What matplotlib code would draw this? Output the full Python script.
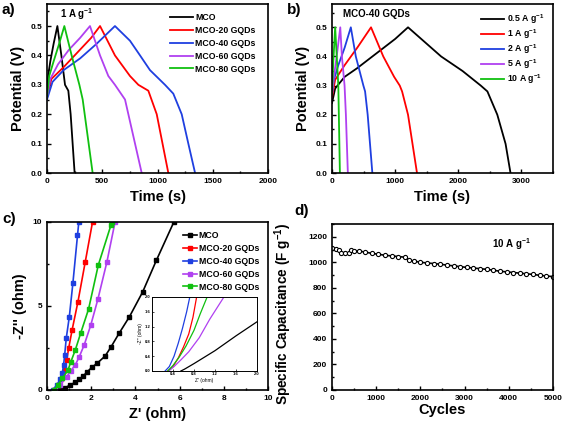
import numpy as np
import matplotlib
matplotlib.use('Agg')
import matplotlib.pyplot as plt
from matplotlib.ticker import MultipleLocator

plt.rcParams['font.family'] = ['Liberation Sans', 'DejaVu Sans']
plt.rcParams['font.weight'] = 'bold'
plt.rcParams['mathtext.fontset'] = 'custom'
plt.rcParams['mathtext.rm'] = 'Liberation Sans:bold'
plt.rcParams['mathtext.bf'] = 'Liberation Sans:bold'
plt.rcParams['mathtext.default'] = 'bf'

# ---- panel a: GCD of samples at 1 A/g
a_names = ['MCO', 'MCO-20 GQDs', 'MCO-40 GQDs', 'MCO-60 GQDs', 'MCO-80 GQDs']
a_cols = ['black', 'red', '#1f3fe0', '#b040f0', '#10c010']
a_t = [
    [0, 10, 30, 60, 94, 130, 163, 193, 214, 250],
    [0, 40, 150, 300, 400, 480, 615, 751, 827, 917, 993, 1098],
    [0, 50, 150, 300, 450, 615, 751, 842, 932, 1068, 1143, 1219, 1279, 1340],
    [0, 30, 100, 200, 300, 389, 480, 555, 615, 706, 857],
    [0, 20, 60, 110, 157, 223, 293, 323, 413],
]
a_v = [
    [0.27, 0.33, 0.38, 0.44, 0.50, 0.40, 0.30, 0.28, 0.20, 0.0],
    [0.26, 0.32, 0.36, 0.42, 0.46, 0.50, 0.40, 0.33, 0.30, 0.28, 0.20, 0.0],
    [0.25, 0.31, 0.35, 0.39, 0.44, 0.50, 0.45, 0.40, 0.35, 0.30, 0.27, 0.20, 0.10, 0.0],
    [0.26, 0.32, 0.37, 0.42, 0.46, 0.50, 0.40, 0.33, 0.30, 0.25, 0.0],
    [0.26, 0.33, 0.38, 0.44, 0.50, 0.40, 0.30, 0.25, 0.0],
]

# ---- panel b: MCO-40 GQDs at different current densities
b_names = ['0.5 A g$^{-1}$', '1 A g$^{-1}$', '2 A g$^{-1}$', '5 A g$^{-1}$', '10 A g$^{-1}$']
b_cols = ['black', 'red', '#1f3fe0', '#b040f0', '#10c010']
b_t = [
    [0, 50, 200, 400, 700, 1000, 1204, 1466, 1728, 2068, 2356, 2461, 2618, 2749, 2827],
    [0, 50, 200, 400, 618, 812, 984, 1073, 1110, 1204, 1346],
    [0, 30, 100, 200, 298, 377, 497, 524, 565, 639],
    [0, 30, 80, 131, 157, 199, 220, 251],
    [0, 20, 50, 75, 100, 125],
]
b_v = [
    [0.24, 0.29, 0.33, 0.36, 0.41, 0.46, 0.50, 0.45, 0.40, 0.35, 0.30, 0.28, 0.20, 0.10, 0.0],
    [0.26, 0.32, 0.37, 0.43, 0.50, 0.40, 0.33, 0.30, 0.28, 0.20, 0.0],
    [0.27, 0.32, 0.37, 0.43, 0.50, 0.40, 0.30, 0.28, 0.20, 0.0],
    [0.27, 0.33, 0.41, 0.50, 0.40, 0.30, 0.20, 0.0],
    [0.27, 0.38, 0.50, 0.40, 0.30, 0.0],
]

# ---- panel c: Nyquist plots
c_order = ['MCO', 'MCO-20 GQDs', 'MCO-40 GQDs', 'MCO-60 GQDs', 'MCO-80 GQDs']
c_x = [
    [0.6, 0.65, 0.83, 1.05, 1.28, 1.47, 1.65, 1.83, 2.03, 2.26, 2.63, 2.90, 3.26, 3.73, 4.33, 4.95, 5.74],
    [0.3, 0.5, 0.65, 0.80, 0.89, 0.98, 1.14, 1.40, 1.73, 2.06],
    [0.25, 0.45, 0.6, 0.69, 0.75, 0.80, 0.87, 1.01, 1.17, 1.38, 1.44],
    [0.35, 0.6, 0.9, 1.08, 1.28, 1.46, 1.68, 1.98, 2.30, 2.71, 3.08],
    [0.3, 0.5, 0.7, 0.95, 1.08, 1.28, 1.53, 1.88, 2.32, 2.89, 2.95],
]
c_y = [
    [0.0, 0.04, 0.14, 0.30, 0.46, 0.63, 0.85, 1.09, 1.35, 1.58, 2.02, 2.57, 3.37, 4.36, 5.84, 7.72, 10.0],
    [0.0, 0.3, 0.65, 1.19, 1.78, 2.48, 3.60, 5.25, 7.62, 10.0],
    [0.0, 0.3, 0.65, 0.99, 1.49, 2.08, 3.07, 4.36, 6.34, 9.20, 10.0],
    [0.0, 0.3, 0.8, 1.15, 1.49, 1.98, 2.67, 3.86, 5.39, 7.62, 10.0],
    [0.0, 0.3, 0.7, 1.19, 1.68, 2.38, 3.41, 4.81, 7.43, 9.80, 10.0],
]
c_cols = ['black', 'red', '#1f3fe0', '#b040f0', '#10c010']

# inset (high-frequency region)
ins_x = [
    [0.55, 0.62, 0.8, 1.2, 1.6, 2.0],
    [0.3, 0.4, 0.5, 0.6, 0.7, 0.78, 0.85],
    [0.25, 0.33, 0.42, 0.5, 0.58, 0.66, 0.72],
    [0.32, 0.42, 0.55, 0.7, 0.9, 1.1, 1.37],
    [0.3, 0.4, 0.52, 0.65, 0.8, 0.92, 1.05],
]
ins_y = [
    [0.0, 0.05, 0.2, 0.55, 0.95, 1.33],
    [0.0, 0.12, 0.35, 0.65, 1.0, 1.45, 2.0],
    [0.0, 0.12, 0.4, 0.75, 1.15, 1.6, 2.0],
    [0.0, 0.12, 0.3, 0.52, 0.9, 1.4, 2.0],
    [0.0, 0.15, 0.38, 0.68, 1.1, 1.55, 2.0],
]

# ---- panel d: cycling stability
d_cyc = [0, 100, 150, 200, 300, 380, 420, 500, 600, 750, 900, 1050, 1200, 1350, 1500,
         1650, 1750, 1850, 2000, 2150, 2300, 2450, 2600, 2750, 2900, 3050, 3200, 3350,
         3500, 3650, 3800, 3950, 4100, 4250, 4400, 4550, 4700, 4850, 5000]
d_cap = [1110, 1105, 1100, 1075, 1075, 1070, 1095, 1090, 1088, 1080, 1070, 1063, 1055, 1050, 1045,
         1040, 1015, 1010, 1000, 995, 990, 985, 978, 972, 966, 960, 955, 950,
         945, 938, 930, 925, 920, 915, 910, 905, 898, 893, 888]

fig = plt.figure(figsize=(5.67, 4.29), dpi=100)
W, H = 567.0, 429.0


def box(l, t, r, b):
    return [l / W, 1 - b / H, (r - l) / W, (b - t) / H]


def style(ax):
    for s in ax.spines.values():
        s.set_linewidth(1.2)
    ax.tick_params(direction='in', which='both', top=False, right=False, labelsize=6, width=1)
    ax.tick_params(which='major', length=3)
    ax.tick_params(which='minor', length=1.5)


lab = dict(fontsize=10.5, fontweight='bold')

ax1 = fig.add_axes(box(47, 4, 268, 173))
for t, v, c, n in zip(a_t, a_v, a_cols, a_names):
    ax1.plot(t, v, color=c, lw=1.3, label=n)
ax1.set_xlim(0, 2000)
ax1.set_ylim(0, 0.575)
ax1.xaxis.set_major_locator(MultipleLocator(500))
ax1.xaxis.set_minor_locator(MultipleLocator(250))
ax1.yaxis.set_major_locator(MultipleLocator(0.1))
ax1.yaxis.set_minor_locator(MultipleLocator(0.05))
ax1.set_xlabel('Time (s)', **lab)
ax1.set_ylabel('Potential (V)', **lab)
ax1.text(0.06, 0.94, '1 A g$^{-1}$', transform=ax1.transAxes, fontsize=7, va='center')
ax1.legend(loc='upper right', frameon=False, fontsize=6.3, handlelength=2.6,
           handletextpad=0.3, labelspacing=0.45, borderaxespad=0.6,
           bbox_to_anchor=(0.985, 1.0))
style(ax1)

ax2 = fig.add_axes(box(332, 4, 553, 173))
for t, v, c, n in zip(b_t, b_v, b_cols, b_names):
    ax2.plot(t, v, color=c, lw=1.3, label=n)
ax2.set_xlim(0, 3500)
ax2.set_ylim(0, 0.58)
ax2.xaxis.set_major_locator(MultipleLocator(1000))
ax2.xaxis.set_minor_locator(MultipleLocator(500))
ax2.yaxis.set_major_locator(MultipleLocator(0.1))
ax2.yaxis.set_minor_locator(MultipleLocator(0.05))
ax2.set_xlabel('Time (s)', **lab)
ax2.set_ylabel('Potential (V)', **lab)
ax2.text(0.05, 0.94, 'MCO-40 GQDs', transform=ax2.transAxes, fontsize=7, va='center')
ax2.legend(loc='upper right', frameon=False, fontsize=6.3, handlelength=2.6,
           handletextpad=0.3, labelspacing=0.15, borderaxespad=0.6)
style(ax2)

ax3 = fig.add_axes(box(47, 222, 268, 390))
for x, y, c, n in zip(c_x, c_y, c_cols, c_order):
    ax3.plot(x, y, color=c, lw=1.2, marker='s', ms=3, label=n)
ax3.set_xlim(0, 10)
ax3.set_ylim(0, 10)
ax3.xaxis.set_major_locator(MultipleLocator(2))
ax3.xaxis.set_minor_locator(MultipleLocator(1))
ax3.yaxis.set_major_locator(MultipleLocator(5))
ax3.yaxis.set_minor_locator(MultipleLocator(2.5))
ax3.set_xlabel("Z' (ohm)", **lab)
ax3.set_ylabel("-Z'' (ohm)", **lab)
ax3.legend(loc='upper right', frameon=False, fontsize=6.3, handlelength=1.6,
           handletextpad=0.2, labelspacing=0.45, borderaxespad=0.6, markerscale=0.9)
style(ax3)

ax_in = fig.add_axes(box(152, 297, 257, 371))
for x, y, c in zip(ins_x, ins_y, c_cols):
    ax_in.plot(x, y, color=c, lw=0.9)
ax_in.set_xlim(0, 2.0)
ax_in.set_ylim(0, 2.0)
ax_in.set_xticks([0.4, 0.8, 1.2, 1.6, 2.0])
ax_in.set_yticks([0.0, 0.4, 0.8, 1.2, 1.6, 2.0])
ax_in.set_xlabel("Z' (ohm)", fontsize=3.5, labelpad=1)
ax_in.set_ylabel("-Z'' (ohm)", fontsize=3.5, labelpad=1)
for s in ax_in.spines.values():
    s.set_linewidth(0.7)
ax_in.tick_params(direction='in', labelsize=3, length=1.5, width=0.5, pad=1)

ax4 = fig.add_axes(box(332, 224, 553, 390))
ax4.plot(d_cyc, d_cap, color='black', lw=1.2, marker='o', ms=3,
         mfc='white', mec='black', mew=0.8)
ax4.set_xlim(0, 5000)
ax4.set_ylim(0, 1300)
ax4.xaxis.set_major_locator(MultipleLocator(1000))
ax4.xaxis.set_minor_locator(MultipleLocator(500))
ax4.yaxis.set_major_locator(MultipleLocator(200))
ax4.yaxis.set_minor_locator(MultipleLocator(100))
ax4.set_xlabel('Cycles', **lab, labelpad=1)
ax4.set_ylabel('Specific Capacitance (F g$^{-1}$)', fontsize=9.8, fontweight='bold')
ax4.yaxis.set_label_coords(-0.17, 0.46)
ax4.text(0.9, 0.88, '10 A g$^{-1}$', transform=ax4.transAxes, fontsize=7, ha='right', va='center')
style(ax4)

fig.text(2 / W, 1 - 10 / H, 'a)', fontsize=11, fontweight='bold', va='center')
fig.text(287 / W, 1 - 10 / H, 'b)', fontsize=11, fontweight='bold', va='center')
fig.text(2 / W, 1 - 219 / H, 'c)', fontsize=11, fontweight='bold', va='center')
fig.text(294 / W, 1 - 211 / H, 'd)', fontsize=11, fontweight='bold', va='center')

fig.savefig('out.png', dpi=100)
